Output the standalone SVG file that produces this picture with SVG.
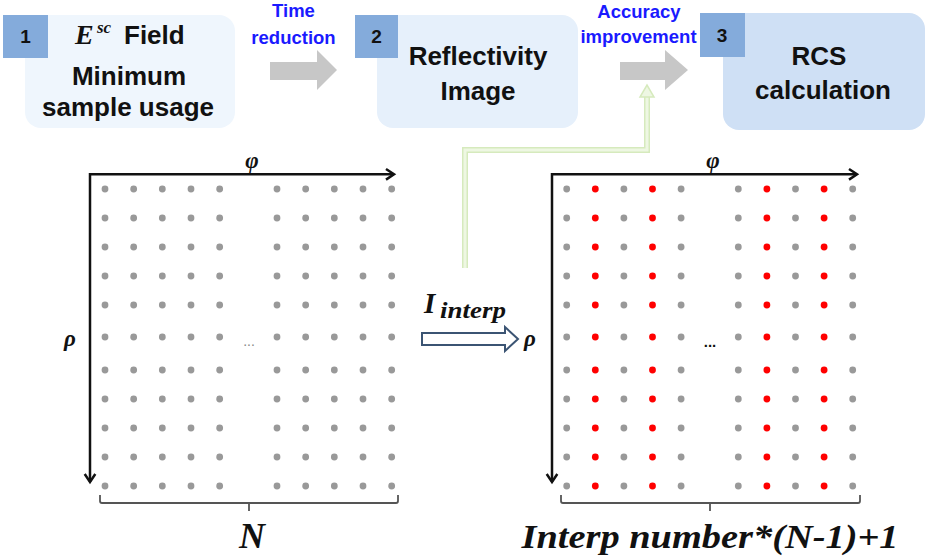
<svg xmlns="http://www.w3.org/2000/svg" xmlns:xlink="http://www.w3.org/1999/xlink" width="927" height="557" viewBox="0 0 927 557">
<style>
.box-text{font-family:"Liberation Sans",Arial,sans-serif;font-weight:bold;font-size:26px;fill:#111;text-anchor:middle}
.badge{fill:#84abdb}
.badge-text{font-family:"Liberation Sans",Arial,sans-serif;font-weight:bold;font-size:19px;fill:#111;text-anchor:middle}
.blue{font-family:"Liberation Sans",Arial,sans-serif;font-weight:bold;font-size:18.5px;fill:#1a1aff;text-anchor:middle}
.math{font-family:"Liberation Serif","Times New Roman",serif;font-style:italic;font-weight:bold;fill:#111}
.axis{stroke:#111;stroke-width:2.5;fill:none}
.brace{stroke:#555;stroke-width:1.8;fill:none}
.g{fill:#999}
.r{fill:#ff0000}
.grayarrow{fill:#c7c7c7}
</style>
<defs>
<g id="rowL">
<circle class="g" cx="105" cy="0" r="3.4"/><circle class="g" cx="133.67" cy="0" r="3.4"/><circle class="g" cx="162.33" cy="0" r="3.4"/><circle class="g" cx="191" cy="0" r="3.4"/><circle class="g" cx="219.67" cy="0" r="3.4"/>
<circle class="g" cx="277" cy="0" r="3.4"/><circle class="g" cx="305.67" cy="0" r="3.4"/><circle class="g" cx="334.33" cy="0" r="3.4"/><circle class="g" cx="363" cy="0" r="3.4"/><circle class="g" cx="391.67" cy="0" r="3.4"/>
</g>
<g id="rowR">
<circle class="g" cx="566.7" cy="0" r="3.4"/><circle class="r" cx="595.3" cy="0" r="3.4"/><circle class="g" cx="623.9" cy="0" r="3.4"/><circle class="r" cx="652.5" cy="0" r="3.4"/><circle class="g" cx="681.1" cy="0" r="3.4"/>
<circle class="g" cx="738.3" cy="0" r="3.4"/><circle class="r" cx="766.9" cy="0" r="3.4"/><circle class="g" cx="795.5" cy="0" r="3.4"/><circle class="r" cx="824.1" cy="0" r="3.4"/><circle class="g" cx="852.7" cy="0" r="3.4"/>
</g>
</defs>
<rect width="927" height="557" fill="#ffffff"/>

<!-- Node 1 -->
<g id="node1">
<rect x="25" y="15" width="210" height="113" rx="16" fill="#eff6fd"/>
<rect class="badge" x="3" y="15" width="45" height="43"/>
<text class="badge-text" x="25.5" y="43">1</text>
<text class="math" x="75" y="44" font-size="28">E</text>
<text class="math" x="97" y="33" font-size="17">sc</text>
<text class="box-text" x="124" y="44" style="text-anchor:start">Field</text>
<text class="box-text" x="129" y="85">Minimum</text>
<text class="box-text" x="128" y="116">sample usage</text>
</g>

<!-- Node 2 -->
<g id="node2">
<rect x="377" y="15" width="201" height="113" rx="16" fill="#e6f0fb"/>
<rect class="badge" x="355" y="15" width="43" height="43"/>
<text class="badge-text" x="376.5" y="43">2</text>
<text class="box-text" x="478" y="65">Reflectivity</text>
<text class="box-text" x="478" y="100">Image</text>
</g>

<!-- Node 3 -->
<g id="node3">
<rect x="723" y="13" width="202" height="117" rx="16" fill="#cfe0f5"/>
<rect class="badge" x="700" y="13" width="45" height="44"/>
<text class="badge-text" x="722" y="42">3</text>
<text class="box-text" x="819" y="65">RCS</text>
<text class="box-text" x="823" y="99">calculation</text>
</g>

<!-- Labels -->
<g id="label-time">
<text class="blue" x="293.5" y="17">Time</text>
<text class="blue" x="293.5" y="44">reduction</text>
</g>
<g id="label-accuracy">
<text class="blue" x="639" y="18">Accuracy</text>
<text class="blue" x="638.5" y="43">improvement</text>
</g>

<!-- Left grid -->
<g id="grid-left">
<use xlink:href="#rowL" y="189"/><use xlink:href="#rowL" y="218"/><use xlink:href="#rowL" y="247"/><use xlink:href="#rowL" y="276"/><use xlink:href="#rowL" y="305"/><use xlink:href="#rowL" y="337"/><use xlink:href="#rowL" y="370"/><use xlink:href="#rowL" y="399"/><use xlink:href="#rowL" y="428"/><use xlink:href="#rowL" y="457"/><use xlink:href="#rowL" y="486"/>
<path class="axis" d="M90,482 L90,174.3 L394,174.3"/>
<path class="axis" d="M386,169 L394,174.3 L386,179.6"/>
<path class="axis" d="M84.7,474 L90,482 L95.3,474"/>
<text class="math" x="252" y="168" font-size="23" text-anchor="middle">φ</text>
<text class="math" x="70" y="346" font-size="23" text-anchor="middle">ρ</text>
<text x="249" y="346" font-family="Liberation Sans,Arial,sans-serif" font-size="14" fill="#888" text-anchor="middle">...</text>
<path class="brace" d="M100,495 L100,501 Q100,503 102,503 L396,503 Q398,503 398,501 L398,495 M249,503 L249,511"/>
<text class="math" x="252" y="548" font-size="36" text-anchor="middle">N</text>
</g>

<!-- Right grid -->
<g id="grid-right">
<use xlink:href="#rowR" y="189"/><use xlink:href="#rowR" y="218"/><use xlink:href="#rowR" y="247"/><use xlink:href="#rowR" y="276"/><use xlink:href="#rowR" y="305"/><use xlink:href="#rowR" y="337"/><use xlink:href="#rowR" y="370"/><use xlink:href="#rowR" y="399"/><use xlink:href="#rowR" y="428"/><use xlink:href="#rowR" y="457"/><use xlink:href="#rowR" y="486"/>
<path class="axis" d="M552,482 L552,174.3 L857,174.3"/>
<path class="axis" d="M849,169 L857,174.3 L849,179.6"/>
<path class="axis" d="M546.7,474 L552,482 L557.3,474"/>
<text class="math" x="713" y="168" font-size="23" text-anchor="middle">φ</text>
<text class="math" x="530" y="346" font-size="23" text-anchor="middle">ρ</text>
<text x="710" y="347" font-family="Liberation Sans,Arial,sans-serif" font-weight="bold" font-size="15" fill="#111" text-anchor="middle">...</text>
<path class="brace" d="M561,495 L561,501 Q561,503 563,503 L858,503 Q860,503 860,501 L860,495 M710,503 L710,511"/>
<text class="math" x="710" y="548" font-size="34" text-anchor="middle" textLength="377" lengthAdjust="spacingAndGlyphs">Interp number*(N-1)+1</text>
</g>

<!-- I_interp label -->
<g id="label-interp">
<text class="math" x="424" y="313" font-size="29">I</text>
<text class="math" x="440" y="318" font-size="23" textLength="66" lengthAdjust="spacingAndGlyphs">interp</text>
</g>

<!-- Connectors -->
<g id="connectors">
<polygon class="grayarrow" points="270,62 317,62 317,50 337,70 317,90 317,80 270,80"/>
<polygon class="grayarrow" points="620,62 665,62 665,50 688,70 665,90 665,80 620,80"/>
<polyline points="465,268 465,150 647,150 647,97" fill="none" stroke="#d6eabd" stroke-width="6"/>
<polyline points="465,268 465,150 647,150 647,97" fill="none" stroke="#eef7e3" stroke-width="3"/>
<polygon points="640,97 654,97 647,85" fill="#eef7e3" stroke="#d6eabd" stroke-width="1.5"/>
<polygon points="422,333 505,333 505,327 518,339 505,351 505,345 422,345" fill="#ffffff" stroke="#3b5473" stroke-width="2"/>
</g>
</svg>
